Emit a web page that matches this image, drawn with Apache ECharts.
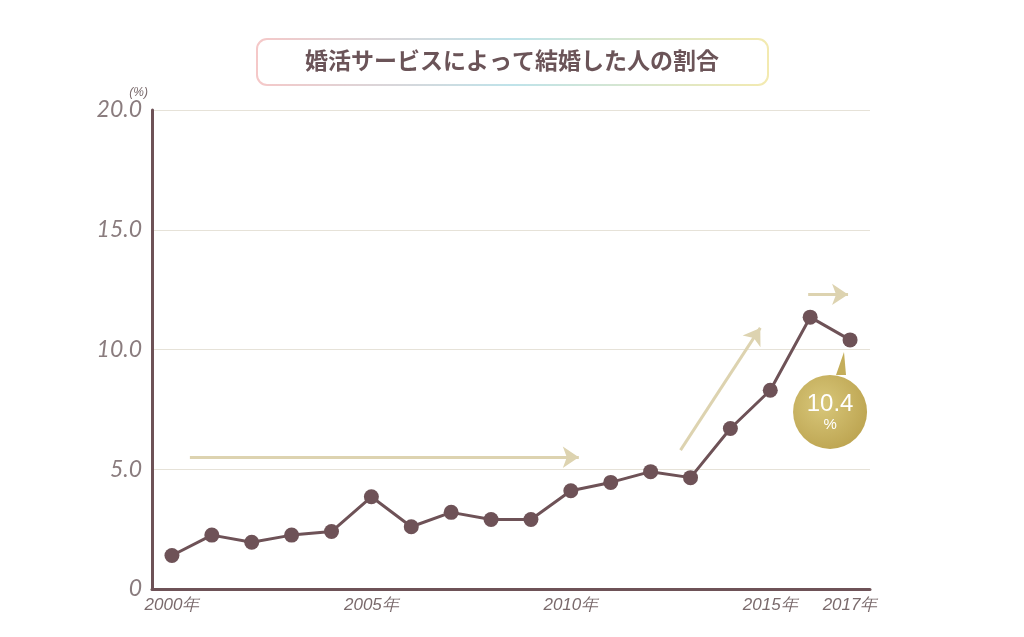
<!DOCTYPE html>
<html><head><meta charset="utf-8">
<script src="https://cdn.jsdelivr.net/npm/echarts@6/dist/echarts.min.js"></script>
<style>html,body{margin:0;background:#fff}#c{width:1024px;height:637px}</style></head>
<body><div id="c"></div>
<script>
const years = ['2000','2001','2002','2003','2004','2005','2006','2007','2008','2009','2010','2011','2012','2013','2014','2015','2016','2017'];
const rates = [1.4,2.25,1.95,2.25,2.4,3.85,2.6,3.2,2.9,2.9,4.1,4.45,4.9,4.65,6.7,8.3,11.35,10.4];
const shownYears = ['2000','2005','2010','2015','2017'];
const yTicks = [0,5,10,15,20];
const arrows = [[[0.45,5.5],[10.2,5.5]],[[12.75,5.8],[14.75,10.9]],[[15.95,12.3],[16.95,12.3]]];
const brown = '#6e5257', gold = '#ddd3b0';
const chart = echarts.init(document.getElementById('c'));
chart.setOption({
  animation:false,
  grid:{left:152,right:154,top:110,bottom:48},
  xAxis:[{type:'category',data:years,boundaryGap:true,
    axisLine:{lineStyle:{color:brown,width:3}},axisTick:{show:false},
    axisLabel:{interval:0,margin:8,color:'#7a6a6c',fontSize:17,fontStyle:'italic',
      formatter:v=>shownYears.includes(v)?v+'年':''}},
    {type:'value',min:-0.5,max:17.5,show:false}],
  yAxis:{type:'value',min:0,max:20,interval:5,name:'(%)',nameGap:6,
    nameTextStyle:{color:'#7a6a6c',fontSize:12,fontStyle:'italic',align:'right',padding:[0,4,0,0]},
    axisLine:{show:true,onZero:false,lineStyle:{color:brown,width:3}},axisTick:{show:false},
    axisLabel:{color:'#8a7c7e',fontSize:23,fontStyle:'italic',margin:10,fontFamily:'Lato',
      formatter:v=>v===0?'0':v.toFixed(1)},
    splitLine:{lineStyle:{color:'#e6e2d8',width:1}}},
  series:[{type:'line',data:rates,symbol:'circle',symbolSize:15,
    lineStyle:{color:brown,width:3},itemStyle:{color:brown},z:5,
    markPoint:{symbol:'circle',symbolSize:74,symbolOffset:[-20,72],silent:true,
      itemStyle:{color:new echarts.graphic.RadialGradient(0.4,0.4,0.7,[{offset:0,color:'#d8c77a'},{offset:1,color:'#bba24e'}])},
      label:{show:true,formatter:'{a|10.4}\n{b|%}',rich:{a:{color:'#fff',fontSize:24,lineHeight:26},b:{color:'#fff',fontSize:15}}},
      data:[{coord:[17,10.4]}]}},
   {type:'line',xAxisIndex:1,data:[],
    markLine:{silent:true,symbol:['none','arrow'],symbolSize:[16,16],
      lineStyle:{color:gold,width:3,type:'solid'},label:{show:false},
      data:arrows.map(a=>[{coord:a[0]},{coord:a[1]}])}}
  ],
  graphic:[
    {type:'polygon',shape:{points:[[836,375],[846,375],[844,352]]},style:{fill:'#c4ad5a'}},
    {type:'rect',left:256,top:38,shape:{width:511,height:46,r:10},
     style:{fill:'#fff',lineWidth:2,stroke:new echarts.graphic.LinearGradient(0,0,1,0,[{offset:0,color:'#f5c8c8'},{offset:0.5,color:'#bfe3ea'},{offset:1,color:'#f3eab0'}])}},
    {type:'text',left:'center',top:49,x:0,style:{text:'婚活サービスによって結婚した人の割合',fill:'#6b5458',fontSize:23,fontWeight:'bold',fontFamily:'Noto Sans CJK JP'}}
  ]
});
</script></body></html>
